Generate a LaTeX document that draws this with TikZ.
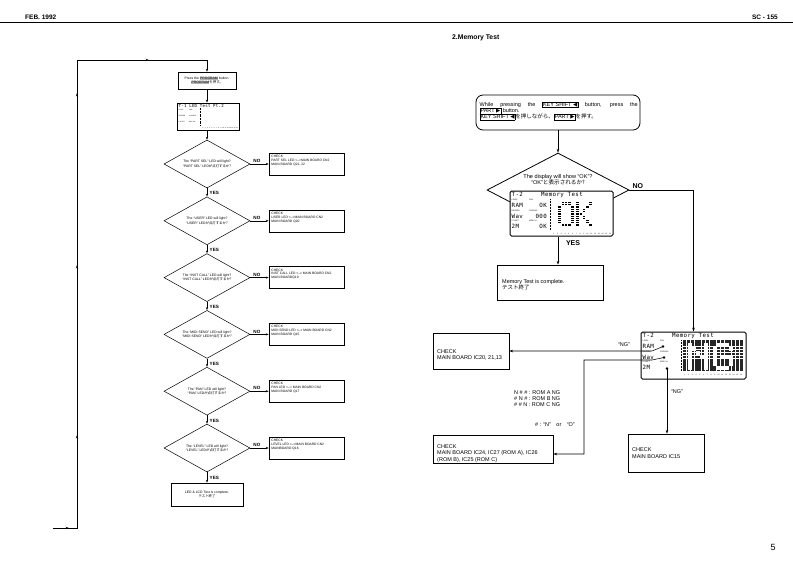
\documentclass[tikz,border=0pt]{standalone}
\usepackage{fontspec}
\setmainfont{Liberation Sans}
\newfontfamily\jp{Noto Sans CJK JP}
\newfontfamily\sym{DejaVu Sans}
\newfontfamily\lcdf[LetterSpace=6]{DejaVu Sans Mono}
\usetikzlibrary{shapes.geometric,arrows.meta,decorations.markings,calc}
\newcommand\kb[1]{{\setlength\fboxsep{0.4pt}\setlength\fboxrule{0.4pt}\fbox{#1}}}
\newcommand\kbg[1]{{\setlength\fboxsep{0.3pt}\colorbox{black!30}{#1}}}
\newcommand\bigpix[2]{\fill (#1+0.3,#2+0.4) rectangle (#1+2.9,#2+1.4); \fill (#1+0.3,#2+2.1) rectangle (#1+2.9,#2+3.1);}
\newcommand\lcdlabels[1]{%
  \node[lcdbig,anchor=west] (#1a) at (1.5,3.6) {T-2};
  \node[lcdbig,anchor=west] (#1b) at (31,3.6) {Memory Test};
  \node[lcdsm,anchor=west] (#1c) at (1.5,9) {LEVEL};
  \node[lcdsm,anchor=west] (#1d) at (19,9) {PAN};
  \node[lcdbig,anchor=west] (#1e) at (1.5,14.5) {RAM};
  \node[lcdsm,anchor=west] (#1f) at (1.5,19.8) {REVERB};
  \node[lcdsm,anchor=west] (#1g) at (19,19.8) {CHORUS};
  \node[lcdbig,anchor=west] (#1h) at (1.5,25) {Wav};
  \node[lcdsm,anchor=west] (#1i) at (1.5,30.3) {K SHIFT};
  \node[lcdsm,anchor=west] (#1j) at (19,30.3) {MIDI CH};
  \node[lcdbig,anchor=west] (#1k) at (1.5,35.6) {2M};
  \draw[densely dotted,line width=0.5pt] (40,8) -- (40,39);
  \foreach \i in {1,...,16} \node[lcdnum] (#1n\i) at ({42+(\i-0.5)*3.75},42.8) {\i};
}
\begin{document}
\begin{tikzpicture}[x=1pt,y=-1pt,
  ln/.style={line width=0.55pt},
  arr/.style={line width=0.55pt,-{Stealth[length=3.8pt,width=2.6pt]}},
  sarr/.style={line width=0.5pt,-{Stealth[length=3pt,width=2.1pt]}},
  lbox/.style={draw,line width=0.5pt,inner sep=0,minimum width=75pt,minimum height=22pt},
  ldia/.style={diamond,draw,line width=0.5pt,inner sep=0,minimum width=86pt,minimum height=48pt},
  ltxt/.style={font=\fontsize{3.4}{4.2}\selectfont,align=center,inner sep=0},
  ctxt/.style={font=\fontsize{3.3}{3.9}\selectfont,align=left,inner sep=0,anchor=north west},
  lno/.style={font=\bfseries\fontsize{4.6}{5}\selectfont,inner sep=0},
  rbox/.style={draw,line width=0.7pt,inner sep=0},
  rtxt/.style={font=\fontsize{5.5}{6.4}\selectfont,align=left,inner sep=0},
  rlab/.style={font=\bfseries\fontsize{7}{8}\selectfont,inner sep=0},
  lcdframe/.style={draw,line width=1pt,rounded corners=1.5pt,fill=white,inner sep=0},
  lcdbig/.style={font=\lcdf\fontsize{5.8}{6}\selectfont,inner sep=0},
  lcdsm/.style={font=\fontsize{1.9}{2}\selectfont,inner sep=0},
  lcdnum/.style={font=\fontsize{1.7}{2}\selectfont,inner sep=0},
]
\fill[white] (0,0) rectangle (793,560);
\useasboundingbox (0,0) rectangle (793,560);

% header
\node[anchor=west,font=\bfseries\fontsize{6.5}{7}\selectfont,inner sep=0] (hdate) at (25,17) {FEB. 1992};
\node[anchor=east,font=\bfseries\fontsize{6.5}{7}\selectfont,inner sep=0] (hmodel) at (778,17) {SC - 155};
\draw[line width=1.3pt] (0,22.5) -- (793,22.5);
\node[anchor=west,font=\bfseries\fontsize{6.8}{7}\selectfont,inner sep=0] (title) at (452,38) {2.Memory Test};
\node[font=\fontsize{9}{10}\selectfont,inner sep=0] (pgno) at (773,547) {5};

% ---------------- left flowchart ----------------
\node[draw,line width=0.5pt,inner sep=0,minimum width=58pt,minimum height=17pt] (b1) at (207,80.5) {};
\node[ltxt] (b1t) at (b1) {Press the \kbg{PROGRAM} button.\\\kbg{PROGRAM}{\jp を押す。}};

\node[draw,line width=0.6pt,inner sep=0,minimum width=62pt,minimum height=27pt] (lcd1) at (208,116.5) {};
\node[font=\lcdf\fontsize{4.1}{4.2}\selectfont,anchor=west,inner sep=0] (l1t) at (178.5,106) {T-1 LED Test Pt.2};
\node[lcdsm,font=\fontsize{1.6}{2}\selectfont,anchor=west] (l1a) at (178.5,110) {LEVEL};
\node[lcdsm,font=\fontsize{1.6}{2}\selectfont,anchor=west] (l1b) at (189,110) {PAN};
\node[lcdsm,font=\fontsize{1.6}{2}\selectfont,anchor=west] (l1c) at (178.5,116) {REVERB};
\node[lcdsm,font=\fontsize{1.6}{2}\selectfont,anchor=west] (l1d) at (189,116) {CHORUS};
\node[lcdsm,font=\fontsize{1.6}{2}\selectfont,anchor=west] (l1e) at (178.5,122) {K SHIFT};
\node[lcdsm,font=\fontsize{1.6}{2}\selectfont,anchor=west] (l1f) at (189,122) {MIDI CH};
\draw[densely dotted,line width=0.4pt] (200.5,108) -- (200.5,126);
\foreach \i in {1,...,16} \node[lcdnum,font=\fontsize{1.5}{2}\selectfont] (l1n\i) at ({202+(\i-0.5)*2.25},128) {\i};

\node[ldia] (d1) at (207,164) {};
\node[ltxt] (d1t) at (d1) {The ``PART SEL'' LED will light?\\``PART SEL'' LED{\jp が点灯するか?}};
\node[lbox] (c1) at (306.5,164) {};
\node[ctxt] (c1t) at ($(c1.north west)+(2.5,2.2)$) {CHECK\\PART SEL LED <-->MAIN BOARD CN2\\MAIN BOARD Q21, 22};

\node[ldia] (d2) at (207,220.8) {};
\node[ltxt] (d2t) at (d2) {The ``USER'' LED will light?\\``USER'' LED{\jp が点灯するか?}};
\node[lbox] (c2) at (306.5,220.8) {};
\node[ctxt] (c2t) at ($(c2.north west)+(2.5,2.2)$) {CHECK\\USER LED <-->MAIN BOARD CN2\\MAIN BOARD Q20};

\node[ldia] (d3) at (207,277.6) {};
\node[ltxt] (d3t) at (d3) {The ``INST CALL'' LED will light?\\``INST CALL'' LED{\jp が点灯するか?}};
\node[lbox] (c3) at (306.5,277.6) {};
\node[ctxt] (c3t) at ($(c3.north west)+(2.5,2.2)$) {CHECK\\INST CALL LED <--> MAIN BOARD CN2\\MAIN BOARDQ19};

\node[ldia] (d4) at (207,334.4) {};
\node[ltxt] (d4t) at (d4) {The ``MIDI SEND'' LED will light?\\``MIDI SEND'' LED{\jp が点灯するか?}};
\node[lbox] (c4) at (306.5,334.4) {};
\node[ctxt] (c4t) at ($(c4.north west)+(2.5,2.2)$) {CHECK\\MIDI SEND LED <--> MAIN BOARD CN2\\MAIN BOARD Q15};

\node[ldia] (d5) at (207,391.2) {};
\node[ltxt] (d5t) at (d5) {The ``PAN'' LED will light?\\``PAN'' LED{\jp が点灯するか?}};
\node[lbox] (c5) at (306.5,391.2) {};
\node[ctxt] (c5t) at ($(c5.north west)+(2.5,2.2)$) {CHECK\\PAN LED <--> MAIN BOARD CN2\\MAIN BOARD Q17};

\node[ldia] (d6) at (207,448) {};
\node[ltxt] (d6t) at (d6) {The ``LEVEL'' LED will light?\\``LEVEL'' LED{\jp が点灯するか?}};
\node[lbox] (c6) at (306.5,448) {};
\node[ctxt] (c6t) at ($(c6.north west)+(2.5,2.2)$) {CHECK\\LEVEL LED <-->MAIN BOARD CN2\\MAINBOARD Q16};

\node[draw,line width=0.5pt,inner sep=0,minimum width=72pt,minimum height=23pt] (fin) at (207,494.5) {};
\node[ltxt] (fint) at (fin) {LED \& LCD Test is complete.\\{\jp テスト終了}};

\draw[sarr] (b1.south) -- (b1.south |- lcd1.north);
\draw[sarr] (lcd1.south -| d1.north) -- (d1.north);
\foreach \a/\b in {1/2,2/3,3/4,4/5,5/6} {
  \draw[sarr] (d\a.south) -- (d\b.north);
  \node[lno,anchor=west] (y\a) at ($(d\a.south)+(2.5,5)$) {YES};
}
\draw[sarr] (d6.south) -- (fin.north);
\node[lno,anchor=west] (y6) at ($(d6.south)+(2.5,5.5)$) {YES};
\foreach \a in {1,...,6} {
  \draw[sarr] (d\a.east) -- (c\a.west);
  \node[lno,anchor=south west] (no\a) at ($(d\a.east)+(3,-1)$) {NO};
}

% loop line
\coordinate (lin) at (53,528);
\coordinate (lc1) at (77,528);
\coordinate (lc2) at (77,60);
\coordinate (lc3) at (207,60);
\draw[line width=0.55pt,postaction={decorate},decoration={markings,
   mark=at position 16pt with {\arrow{Stealth[length=3.5pt,width=2.3pt]}},
   mark=at position 117pt with {\arrow{Stealth[length=3.5pt,width=2.3pt]}},
   mark=at position 287pt with {\arrow{Stealth[length=3.5pt,width=2.3pt]}},
   mark=at position 459pt with {\arrow{Stealth[length=3.5pt,width=2.3pt]}},
   mark=at position 564pt with {\arrow{Stealth[length=3.5pt,width=2.3pt]}}}]
   (lin) -- (lc1) -- (lc2) -- (lc3);
\draw[sarr] (lc3) -- (b1.north);

% ---------------- right flowchart ----------------
\node[draw,line width=0.8pt,rounded corners=7pt,inner sep=0,minimum width=164pt,minimum height=35pt] (st) at (558,112.5) {};
\node[rtxt,font=\fontsize{5.5}{6.2}\selectfont,anchor=north west] (stt) at (479.5,101.5) {\makebox[158pt][s]{While pressing the \kb{KEY SHIFT {\sym ◀}} button, press the}\\\kb{PART {\sym ▶}} button.\\\kb{KEY SHIFT {\sym ◀}}{\jp を押しながら、}\kb{PART {\sym ▶}}{\jp を押す。}};

\node[diamond,draw,line width=0.8pt,inner sep=0,minimum width=142pt,minimum height=74pt] (rd) at (558,190) {};
\node[font=\fontsize{5.6}{6.3}\selectfont,align=center,inner sep=0] (rdt) at (558,180) {The display will show ``OK''?\\``OK''{\jp と表示されるか?}};
\draw[arr] (st.south) -- (rd.north);

% OK LCD
\node[lcdframe,minimum width=103pt,minimum height=45pt] (lcdok) at (561.5,213.5) {};
\begin{scope}[shift={(510,191)}]
  \lcdlabels{ok}
  \node[lcdbig,anchor=east] (okv1) at (37,14.5) {OK};
  \node[lcdbig,anchor=east] (okv2) at (37,25) {000};
  \node[lcdbig,anchor=east] (okv3) at (37,35.6) {OK};
  \foreach \c/\r in {1/0,2/0,3/0,0/1,4/1,0/2,4/2,0/3,4/3,0/4,4/4,0/5,4/5,1/6,2/6,3/6} {\bigpix{48+\c*3.2}{10.5+\r*3.6}}
  \foreach \c/\r in {0/0,4/0,0/1,3/1,0/2,2/2,0/3,1/3,0/4,2/4,0/5,3/5,0/6,4/6} {\bigpix{66+\c*3.2}{10.5+\r*3.6}}
\end{scope}
\node[rlab] (ryes) at (573,243) {YES};
\node[rlab,anchor=south west] (rno) at ($(rd.east)+(3,-1.5)$) {NO};

\node[rbox,minimum width=106pt,minimum height=35pt] (comp) at (550,282.5) {};
\node[rtxt,anchor=west] (compt) at (502,285) {Memory Test is complete.\\{\jp テスト終了}};
\draw[arr] (rd.center |- lcdok.south) -- (rd.center |- comp.north);

% NG LCD
\node[lcdframe,minimum width=105pt,minimum height=47pt] (lcdng) at (693.5,355.5) {};
\begin{scope}[shift={(641,332)}]
  \lcdlabels{ng}
  \foreach \c in {0,...,15} \foreach \r in {0,...,9}
     \fill[black!85] ({42.3+\c*3.75},{8.3+\r*3.1}) rectangle ({45.4+\c*3.75},{10.9+\r*3.1});
  \foreach \c/\r in {0/0,4/0,0/1,1/1,4/1,0/2,2/2,4/2,0/3,3/3,4/3,0/4,4/4,0/5,4/5,0/6,4/6}
     \fill[white] ({47+\c*4},{11+\r*3.9}) rectangle ({51+\c*4},{14.9+\r*3.9});
  \foreach \c/\r in {1/0,2/0,3/0,0/1,4/1,0/2,0/3,2/3,3/3,4/3,0/4,4/4,0/5,4/5,1/6,2/6,3/6}
     \fill[white] ({72+\c*4},{11+\r*3.9}) rectangle ({76+\c*4},{14.9+\r*3.9});
\end{scope}
\draw[arr] (rd.east) -| (lcdng.north);

\coordinate (ramdot) at (663,346.5);
\coordinate (wavdot) at (664,357.5);
\coordinate (mididot) at (667,368.5);
\fill (ramdot) circle (1.4);
\fill (wavdot) circle (1.4);
\fill (mididot) circle (1.4);

\node[rbox,minimum width=76pt,minimum height=36pt] (ic20) at (471,351) {};
\node[rtxt,anchor=west] (ic20t) at (437,355) {CHECK\\MAIN BOARD IC20, 21,13};
\node[rbox,minimum width=120pt,minimum height=28pt] (rom) at (493,449) {};
\node[rtxt,anchor=west] (romt) at (437,453.5) {CHECK\\MAIN BOARD IC24, IC27 (ROM A), IC26\\(ROM B), IC25 (ROM C)};
\node[rbox,minimum width=76pt,minimum height=38pt] (ic15) at (666,453) {};
\node[rtxt,anchor=west] (ic15t) at (632,453) {CHECK\\MAIN BOARD IC15};

\draw[arr] (ramdot) -- (652,351) -- (ic20.east);
\draw[arr] (wavdot) -- (652,360) -- (584,360) |- ([yshift=-5pt]rom.east);
\draw[arr] (mididot) -- (mididot |- ic15.north);

\node[rtxt] (ng1) at (624,345) {``NG''};
\node[rtxt] (ng2) at (677,392) {``NG''};
\node[rtxt,anchor=north west] (romkey) at (514,390) {N \# \# : ROM A NG\\\# N \# : ROM B NG\\\# \# N : ROM C NG};
\node[rtxt,anchor=west] (hashkey) at (535,425) {\# : ``N''\quad or\quad ``O''};
\end{tikzpicture}
\end{document}
